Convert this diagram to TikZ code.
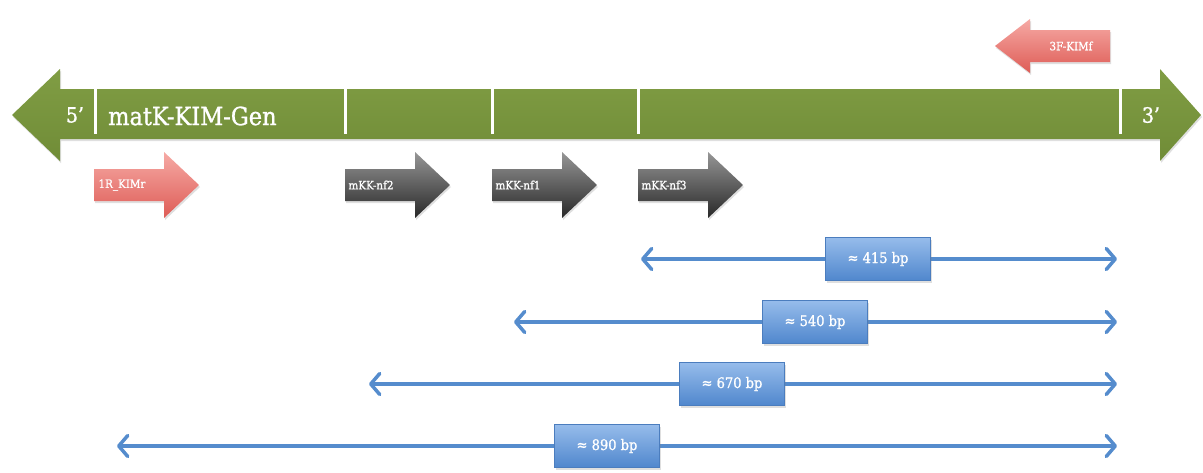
\documentclass[tikz,border=0pt]{standalone}
\usepackage{fontspec}
\setmainfont{DejaVu Serif Condensed}
\newfontfamily\lblfont{DejaVu Serif Condensed}[FakeBold=1.1]
\usetikzlibrary{arrows.meta,shadows}
\definecolor{geneTop}{RGB}{128,157,68}
\definecolor{geneBot}{RGB}{112,140,55}
\definecolor{redTop}{RGB}{246,170,165}
\definecolor{redBot}{RGB}{222,92,86}
\definecolor{greyTop}{RGB}{150,150,150}
\definecolor{greyBot}{RGB}{40,40,40}
\definecolor{boxTop}{RGB}{150,188,235}
\definecolor{boxBot}{RGB}{80,135,205}
\definecolor{boxLine}{RGB}{75,125,190}
\definecolor{lineBlue}{RGB}{85,140,205}
\tikzset{
  gene/.style={top color=geneTop, bottom color=geneBot, draw=none,
    drop shadow={opacity=0.25, shadow xshift=1pt, shadow yshift=-2pt}},
  divider/.style={draw=white, line width=3pt},
  endlabel/.style={text=white, font=\lblfont\fontsize{21}{24}\selectfont, inner sep=0pt},
  genelabel/.style={text=white, font=\lblfont\fontsize{25}{27}\selectfont, inner sep=0pt, anchor=west},
  redprimer/.style={top color=redTop, bottom color=redBot, draw=none,
    drop shadow={opacity=0.25, shadow xshift=1pt, shadow yshift=-2pt}},
  greyprimer/.style={top color=greyTop, bottom color=greyBot, draw=none,
    drop shadow={opacity=0.25, shadow xshift=1pt, shadow yshift=-2pt}},
  primerlabel/.style={text=white, font=\lblfont\fontsize{11.5}{13}\selectfont, inner sep=0pt},
  sizeline/.style={draw=lineBlue, line width=3.5pt,
    {Straight Barb[length=9pt,width=21pt,line width=3.5pt,round]}-{Straight Barb[length=9pt,width=21pt,line width=3.5pt,round]}},
  sizebox/.style={top color=boxTop, bottom color=boxBot, draw=boxLine, line width=0.6pt,
    minimum width=105pt, minimum height=43pt, inner sep=0pt, text=white,
    font=\lblfont\fontsize{14.5}{16}\selectfont,
    drop shadow={opacity=0.25, shadow xshift=1pt, shadow yshift=-2pt}}
}
\begin{document}
\begin{tikzpicture}[x=1pt,y=-1pt]
\useasboundingbox (0,0) rectangle (1203,472);

% main gene arrow
\path[gene] (12,115) -- (60,69) -- (60,89) -- (1160,89) -- (1160,69) -- (1201,115)
  -- (1160,161) -- (1160,139) -- (60,139) -- (60,161) -- cycle;
\foreach \x in {95,345,492,638,1120}
  \draw[divider] (\x,89) -- (\x,134);
\node[endlabel] (five) at (75,115) {5’};
\node[genelabel] (gen) at (108,116) {matK-KIM-Gen};
\node[endlabel] (three) at (1151,115) {3’};

% reverse primer 3F-KIMf
\path[redprimer] (1110,30) -- (1030,30) -- (1030,19) -- (995,46) -- (1030,73)
  -- (1030,62) -- (1110,62) -- cycle;
\node[primerlabel] (p3f) at (1071,46) {3F-KIMf};

% forward primers
\path[redprimer] (94,169) -- (164,169) -- (164,152) -- (199,185) -- (164,218)
  -- (164,201) -- (94,201) -- cycle;
\node[primerlabel] (p1r) at (122,185) {1R\_KIMr};

\path[greyprimer] (345,169) -- (415,169) -- (415,152) -- (450,185) -- (415,218)
  -- (415,201) -- (345,201) -- cycle;
\node[primerlabel] (nf2) at (371,185) {mKK-nf2};

\path[greyprimer] (492,169) -- (562,169) -- (562,152) -- (597,185) -- (562,218)
  -- (562,201) -- (492,201) -- cycle;
\node[primerlabel] (nf1) at (518,185) {mKK-nf1};

\path[greyprimer] (638,169) -- (708,169) -- (708,152) -- (743,185) -- (708,218)
  -- (708,201) -- (638,201) -- cycle;
\node[primerlabel] (nf3) at (664,185) {mKK-nf3};

% size arrows
\coordinate (a1l) at (641,259);  \coordinate (a1r) at (1117,259);
\coordinate (a2l) at (514,322);  \coordinate (a2r) at (1117,322);
\coordinate (a3l) at (369,384);  \coordinate (a3r) at (1117,384);
\coordinate (a4l) at (117,446);  \coordinate (a4r) at (1117,446);
\draw[sizeline] (a1l) -- (a1r);
\draw[sizeline] (a2l) -- (a2r);
\draw[sizeline] (a3l) -- (a3r);
\draw[sizeline] (a4l) -- (a4r);
\node[sizebox] (b1) at (878,259) {≈ 415 bp};
\node[sizebox] (b2) at (815,322) {≈ 540 bp};
\node[sizebox] (b3) at (732,384) {≈ 670 bp};
\node[sizebox] (b4) at (607,446) {≈ 890 bp};
\end{tikzpicture}
\end{document}
